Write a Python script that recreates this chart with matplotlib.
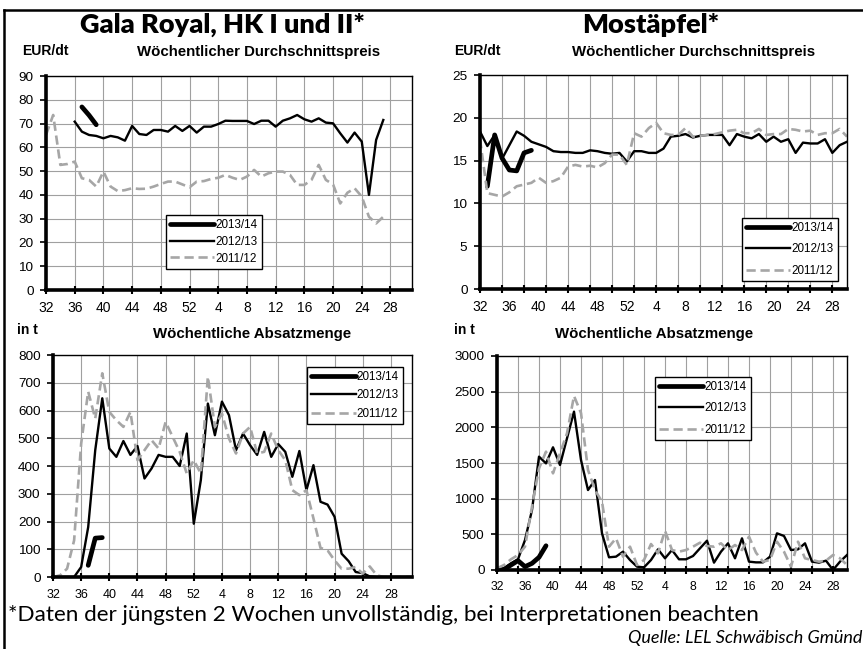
import numpy as np
import matplotlib
matplotlib.use('Agg')
import matplotlib.pyplot as plt
from matplotlib.lines import Line2D

W, H = 863, 649

# Kalenderwochen: Index 0 = KW 32, Index 20 = KW 52, Index 21 = KW 1 ...
x_labels = ['32', '36', '40', '44', '48', '52', '4', '8', '12', '16', '20', '24', '28']
series_names = ['2013/14', '2012/13', '2011/12']

# Gala Royal - Preis (EUR/dt)
gala_price_1314_start = 5
gala_price_1314 = [77, 73.5, 69.5]
gala_price_1213_start = 4
gala_price_1213 = [70.8, 66.6, 65.2, 64.8, 63.8, 64.8, 64.2, 62.8, 69, 65.6,
                   65.2, 67.3, 67.3, 66.6, 69, 66.9, 69, 66.2, 68.7, 68.7,
                   69.8, 71.2, 71.1, 71.1, 71.1, 69.8, 71.2, 71.2, 68.7, 71.2,
                   72.2, 73.6, 71.8, 70.8, 72.2, 70.4, 70.1, 65.9, 62, 66.2,
                   62.4, 40, 63.1, 71.5]
gala_price_1112_start = 0
gala_price_1112 = [65.2, 73.6, 52.6, 53, 54, 47, 46.3, 43.5, 49.8, 43.5,
                   41.6, 42, 42.8, 42.5, 42.6, 43.5, 44.6, 45.6, 45.6, 44.4,
                   43.2, 45.6, 45.8, 46.7, 47.2, 48.4, 47.2, 46.3, 47.7, 50.5,
                   47.7, 49.1, 49.8, 49.8, 48.4, 44.2, 44.2, 46.3, 52.6, 46.3,
                   44.4, 36.4, 40.9, 42.8, 39.3, 30.8, 28, 30.8]

# Mostaepfel - Preis (EUR/dt)
most_price_1314_start = 1
most_price_1314 = [12, 18, 15.3, 13.9, 13.8, 15.9, 16.2]
most_price_1213_start = 0
most_price_1213 = [18.4, 16.7, 18, 15.2, 16.8, 18.4, 17.9, 17.2, 16.9, 16.6,
                   16.1, 16, 16, 15.9, 15.9, 16.2, 16.1, 15.9, 15.8, 15.9,
                   14.9, 16.1, 16.1, 15.9, 15.9, 16.4, 17.8, 17.9, 18.1, 17.7,
                   17.9, 18, 18, 18, 16.8, 18.1, 17.8, 17.6, 18.1, 17.2,
                   17.8, 17.2, 17.5, 15.9, 17.1, 17, 17, 17.5, 15.9, 16.8,
                   17.2]
most_price_1112_start = 0
most_price_1112 = [17.5, 11.2, 11.0, 10.8, 11.3, 12, 12.2, 12.4, 13.0, 12.4,
                   12.6, 13.0, 14.3, 14.5, 14.3, 14.4, 14.2, 14.7, 15.7, 15.7,
                   14.5, 18.2, 17.8, 18.8, 19.4, 18.2, 18, 18, 18.8, 17.8,
                   17.9, 18, 18.1, 18.3, 18.5, 18.6, 18.2, 18.2, 18.7, 18,
                   18.1, 18.1, 18.7, 18.6, 18.4, 18.5, 18, 18.2, 18.2, 18.7,
                   17.8]

# Gala Royal - Absatzmenge (t)
gala_qty_1314_start = 5
gala_qty_1314 = [42, 140, 142]
gala_qty_1213_start = 0
gala_qty_1213 = [0, 0, 0, 0, 36, 180, 457, 644, 463, 433,
                 490, 440, 472, 355, 391, 440, 433, 433, 400, 517,
                 192, 349, 625, 511, 632, 583, 457, 517, 475, 440,
                 523, 433, 479, 451, 361, 454, 313, 403, 271, 261,
                 217, 84, 57, 18, 14, 2, 0, 0, 0, 0,
                 0, 0]
gala_qty_1112_start = 0
gala_qty_1112 = [0, 6, 30, 132, 481, 668, 571, 734, 595, 565,
                 541, 595, 421, 457, 493, 463, 559, 505, 451, 373,
                 421, 373, 722, 541, 589, 499, 445, 517, 541, 445,
                 451, 517, 457, 421, 313, 295, 313, 211, 105, 96,
                 60, 30, 30, 36, 12, 38, 6, 0, 0, 0,
                 0, 0]

# Mostaepfel - Absatzmenge (t)
most_qty_1314_start = 0
most_qty_1314 = [0, 9, 70, 131, 47, 93, 178, 340]
most_qty_1213_start = 0
most_qty_1213 = [0, 23, 93, 150, 420, 841, 1589, 1495, 1720, 1472,
                 1846, 2220, 1542, 1121, 1262, 514, 178, 187, 257, 140,
                 47, 37, 140, 290, 164, 280, 150, 150, 196, 304,
                 411, 103, 257, 374, 164, 444, 117, 107, 107, 187,
                 514, 477, 280, 290, 374, 117, 103, 131, 0, 117,
                 210]
most_qty_1112_start = 0
most_qty_1112 = [23, 70, 150, 210, 327, 888, 1425, 1659, 1355, 1636,
                 1916, 2440, 2200, 1402, 1121, 958, 327, 444, 187, 327,
                 70, 140, 364, 234, 551, 280, 257, 280, 327, 383,
                 336, 327, 374, 280, 350, 280, 467, 243, 117, 140,
                 397, 257, 47, 397, 164, 140, 117, 131, 210, 164,
                 70]

styles = [dict(color='black', lw=3.4, solid_capstyle='round'),
          dict(color='black', lw=1.7),
          dict(color='#a6a6a6', lw=1.9, dashes=(3.5, 1.8))]

plt.rcParams['font.family'] = ['Liberation Sans', 'DejaVu Sans']


def fx(x):
    return x / W


def fy(y):
    return 1 - y / H


def px_axes(l, t, r, b):
    return [fx(l), fy(b), (r - l) / W, (b - t) / H]


def draw_panel(rect, xmax, ymax, ystep, series, tick_step, xfs, xpad,
               leg_pos, leg_spacing):
    ax = fig.add_axes(rect)
    for (start, vals), st, name in zip(series, styles, series_names):
        idx = np.arange(start, start + len(vals))
        ax.plot(idx, vals, label=name, **st)
    ax.set_xlim(0, xmax)
    ax.set_ylim(0, ymax)
    ax.set_yticks(np.arange(0, ymax + 1, ystep))
    ax.xaxis.remove_overlapping_locs = False
    ax.set_xticks(np.arange(0, 49, tick_step))
    ax.set_xticklabels([])
    ax.set_xticks(np.arange(0, 49, 4), minor=True)
    ax.set_xticklabels(x_labels, minor=True, fontsize=xfs)
    ax.tick_params(axis='x', which='major', direction='inout', length=6, width=1.5)
    ax.tick_params(axis='x', which='minor', length=0, pad=xpad)
    ax.tick_params(axis='y', direction='out', length=4, width=1.2, labelsize=9.7, pad=5)
    ax.grid(True, which='major', color='#a0a0a0', lw=0.8)
    for s in ['left', 'bottom']:
        ax.spines[s].set_linewidth(2.6)
    for s in ['top', 'right']:
        ax.spines[s].set_linewidth(1.0)
    ax.set_axisbelow(True)
    leg = ax.legend(loc='upper left', bbox_to_anchor=leg_pos, fontsize=8.4,
                    handlelength=3.8, handletextpad=0.1, borderpad=0.35,
                    labelspacing=leg_spacing, fancybox=False, framealpha=1,
                    edgecolor='black', borderaxespad=0)
    leg.get_frame().set_linewidth(1.0)
    return ax


fig = plt.figure(figsize=(W / 100, H / 100), dpi=100)

draw_panel(px_axes(46, 76, 412, 290), 51, 90, 10,
           [(gala_price_1314_start, gala_price_1314),
            (gala_price_1213_start, gala_price_1213),
            (gala_price_1112_start, gala_price_1112)],
           4, 10, 8, (0.328, 0.350), 0.4)
draw_panel(px_axes(480, 75, 847, 289), 50, 25, 5,
           [(most_price_1314_start, most_price_1314),
            (most_price_1213_start, most_price_1213),
            (most_price_1112_start, most_price_1112)],
           3, 10, 8, (0.714, 0.332), 0.8)
draw_panel(px_axes(53, 355, 412, 577), 51, 800, 100,
           [(gala_qty_1314_start, gala_qty_1314),
            (gala_qty_1213_start, gala_qty_1213),
            (gala_qty_1112_start, gala_qty_1112)],
           4, 9, 9, (0.708, 0.946), 0.55)
draw_panel(px_axes(497, 356, 847, 570), 50, 3000, 500,
           [(most_qty_1314_start, most_qty_1314),
            (most_qty_1213_start, most_qty_1213),
            (most_qty_1112_start, most_qty_1112)],
           3, 8.8, 8, (0.451, 0.902), 0.8)

# Titel und Beschriftungen
title_font = ['Lato', 'DejaVu Sans']
fig.text(fx(222), fy(25), 'Gala Royal, HK I und II*', ha='center', va='center',
         fontsize=19.5, fontweight='heavy', family=title_font)
fig.text(fx(651), fy(25), 'Mostäpfel*', ha='center', va='center',
         fontsize=19.5, fontweight='heavy', family=title_font)

for x in (22, 454):
    fig.text(fx(x), fy(51), 'EUR/dt', ha='left', va='center',
             fontsize=10, fontweight='bold')
for x in (259, 694):
    fig.text(fx(x), fy(52), 'Wöchentlicher Durchschnittspreis', ha='center',
             va='center', fontsize=10.8, fontweight='bold')
for x in (17, 454):
    fig.text(fx(x), fy(330), 'in t', ha='left', va='center',
             fontsize=10, fontweight='bold')
for x in (252, 654):
    fig.text(fx(x), fy(334), 'Wöchentliche Absatzmenge', ha='center',
             va='center', fontsize=10.8, fontweight='bold')

fig.text(fx(8), fy(615), '*Daten der jüngsten 2 Wochen unvollständig, bei Interpretationen beachten',
         ha='left', va='center', fontsize=16.2, family=title_font)
fig.text(fx(862), fy(638), 'Quelle: LEL Schwäbisch Gmünd', ha='right', va='center',
         fontsize=13, style='italic', family=title_font)

# Rahmen
fig.add_artist(Line2D([fx(4), fx(W + 5)], [fy(10), fy(10)], color='black', lw=1.8))
fig.add_artist(Line2D([fx(4), fx(4)], [fy(10), fy(H + 5)], color='black', lw=1.8))

fig.savefig('out.png', dpi=100)
